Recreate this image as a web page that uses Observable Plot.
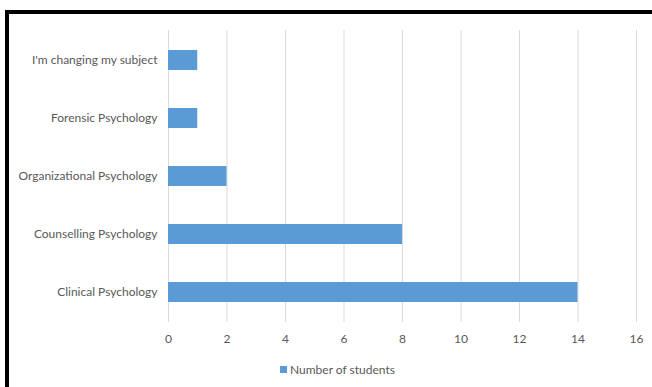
<!DOCTYPE html>
<html>
<head>
<meta charset="utf-8">
<script src="https://cdn.jsdelivr.net/npm/d3@7"></script>
<script src="https://cdn.jsdelivr.net/npm/@observablehq/plot@0.6"></script>
<style>
  html, body { margin: 0; padding: 0; background: #fff; width: 652px; height: 387px; overflow: hidden; }
  #wrap { position: relative; width: 652px; height: 387px; font-family: Lato, "Open Sans", sans-serif; }
  #frame { position: absolute; left: 5px; top: 10px; width: 700px; height: 450px; border-left: 4px solid #000; border-top: 4px solid #000; box-sizing: border-box; pointer-events: none; }
  #chart { position: absolute; left: 0; top: 0; }
  #legend { position: absolute; left: 280px; top: 362px; font-size: 12px; color: #595959; display: flex; align-items: center; white-space: nowrap; }
  #legend .sw { width: 7px; height: 7px; background: #5b9bd5; margin-right: 3px; }
</style>
</head>
<body>
<div id="wrap">
  <div id="chart"></div>
  <div id="legend"><span class="sw"></span><span id="legtext"></span></div>
  <div id="frame"></div>
</div>
<script>
const categories = ["I'm changing my subject", "Forensic Psychology", "Organizational Psychology", "Counselling Psychology", "Clinical Psychology"];
const values = [1, 1, 2, 8, 14];
const xTicks = [0, 2, 4, 6, 8, 10, 12, 14, 16];
const seriesName = "Number of students";

const data = categories.map((c, i) => ({category: c, value: values[i]}));

const chart = Plot.plot({
  width: 652,
  height: 352,
  marginTop: 30,
  marginBottom: 30,
  marginLeft: 168,
  marginRight: 16,
  style: {fontFamily: "Lato, 'Open Sans', sans-serif", fontSize: "12px", color: "#595959", background: "transparent"},
  x: {domain: [0, 16], ticks: xTicks, label: null},
  y: {domain: categories, paddingInner: 0.66, paddingOuter: 0.33, label: null},
  marks: [
    Plot.gridX(xTicks, {stroke: "#d9d9d9", strokeOpacity: 1, strokeWidth: 1}),
    Plot.barX(data, {x: "value", y: "category", fill: "#5b9bd5"}),
    Plot.axisX({ticks: xTicks, tickSize: 0, tickPadding: 12, label: null, fill: "#595959"}),
    Plot.axisY({tickSize: 0, tickPadding: 11, label: null, fill: "#595959"})
  ]
});
document.getElementById("chart").appendChild(chart);
document.getElementById("legtext").textContent = seriesName;
</script>
</body>
</html>
